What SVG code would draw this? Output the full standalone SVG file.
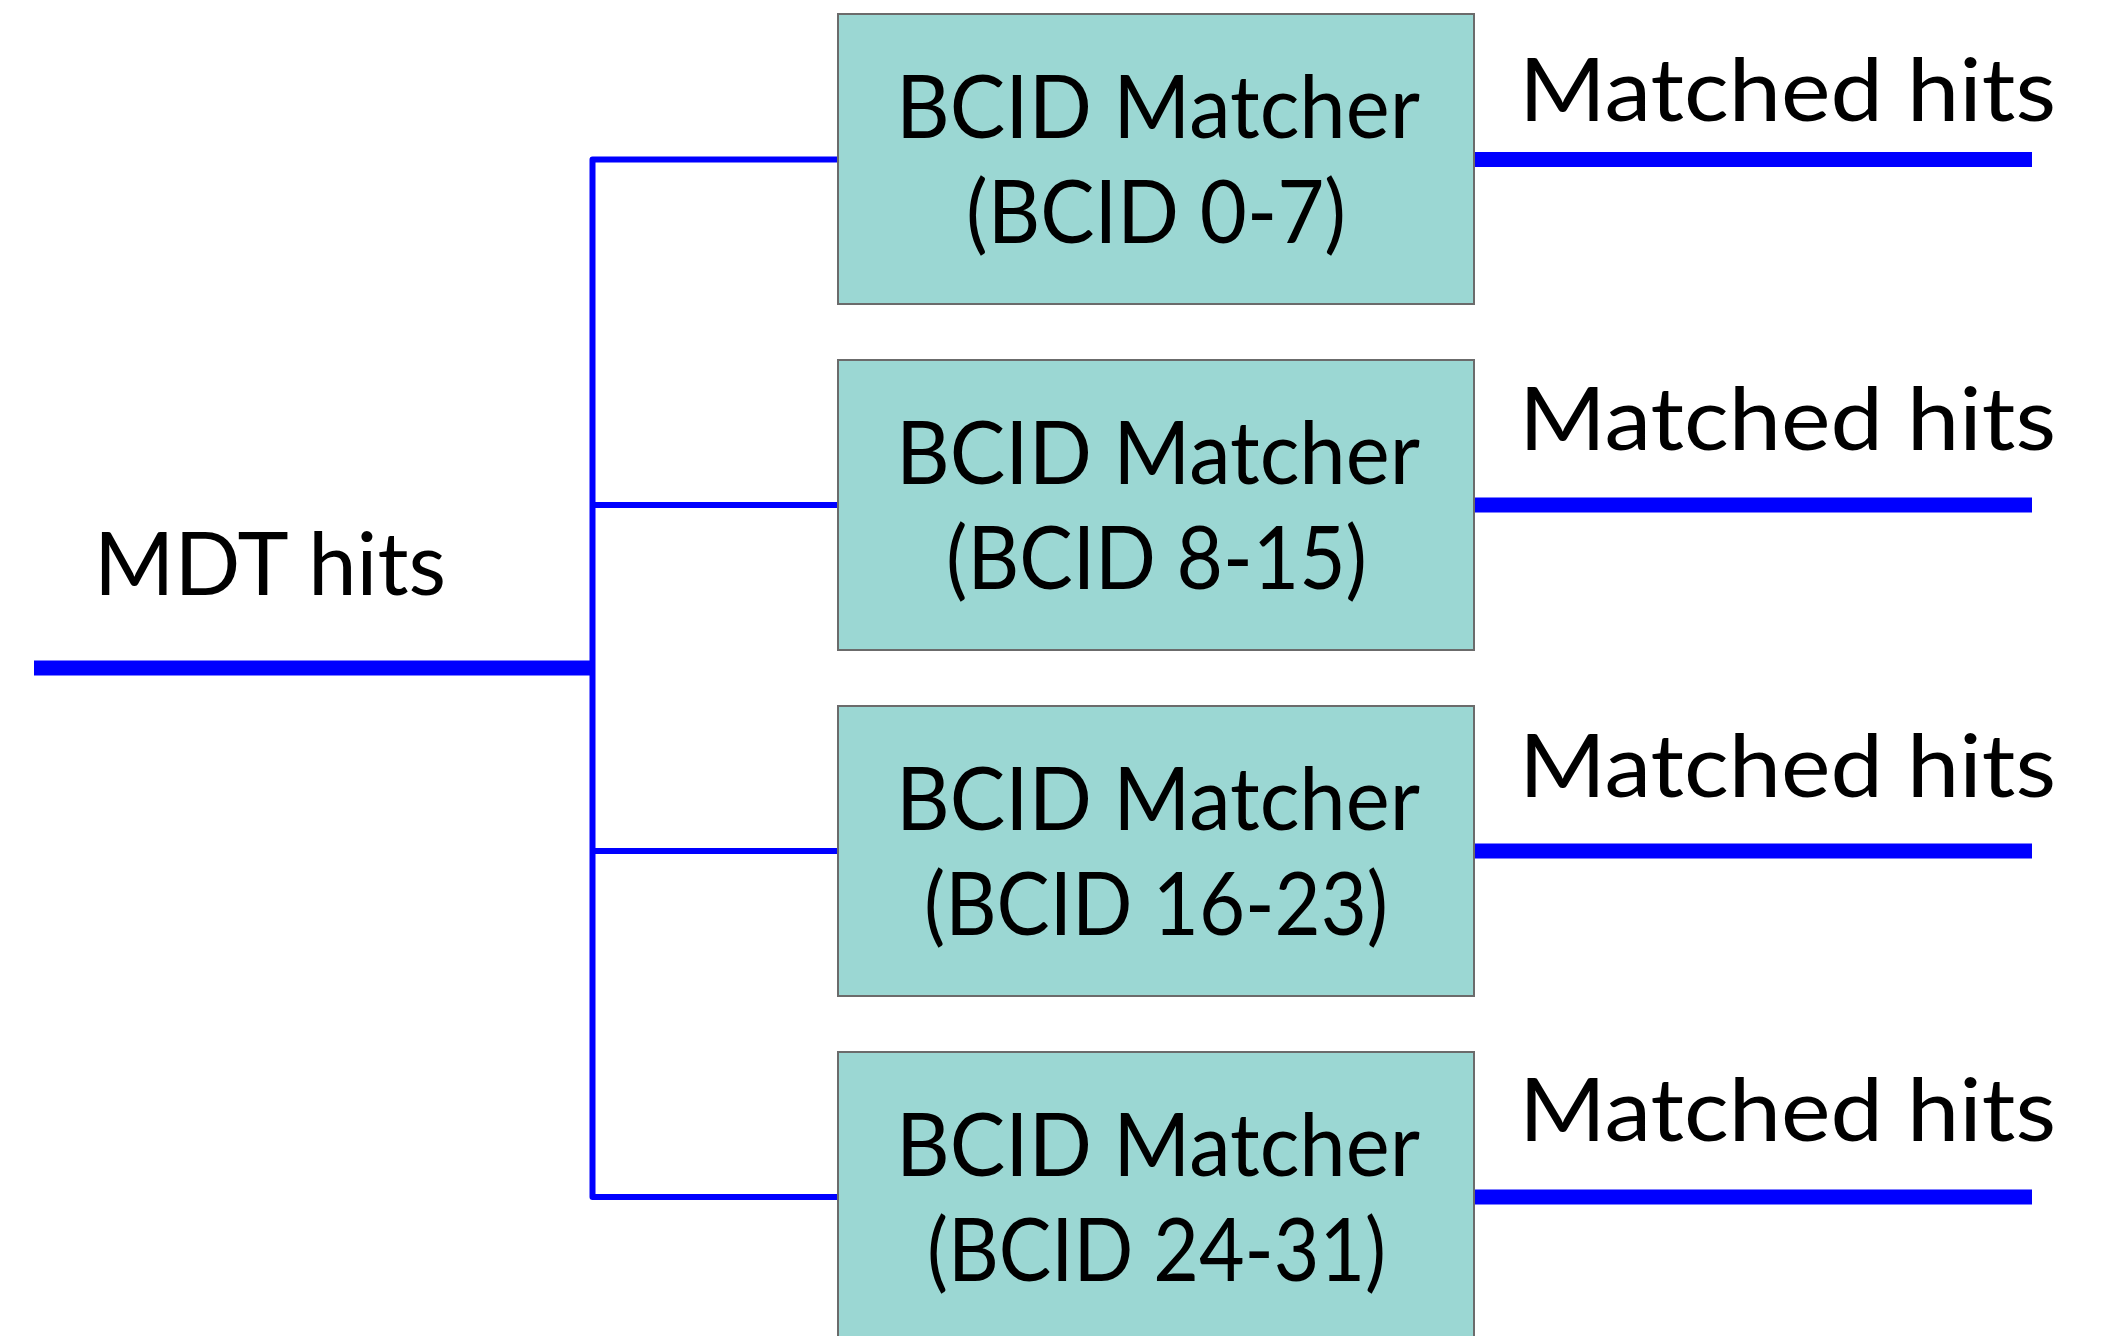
<svg xmlns="http://www.w3.org/2000/svg" width="2115" height="1336" viewBox="0 0 2115 1336">
<style>
  .box { fill: #9bd7d3; stroke: #6b6b6b; stroke-width: 2; }
  .lbl { font-family: Lato, "Noto Sans", sans-serif; font-size: 87px; fill: #000; }
  .mid { text-anchor: middle; }
  .thin { stroke: #0000ff; stroke-width: 6; fill: none; stroke-linejoin: round; }
  .thick { stroke: #0000ff; stroke-width: 15; fill: none; }
</style>
<rect width="2115" height="1336" fill="#ffffff"/>
<g id="connectors">
  <line class="thick" x1="34" y1="668" x2="592" y2="668"/>
  <path class="thin" d="M838,159.5 H592.5 V1197 H838"/>
  <line class="thin" x1="592.5" y1="505" x2="838" y2="505"/>
  <line class="thin" x1="592.5" y1="851" x2="838" y2="851"/>
  <line class="thick" x1="1474" y1="159.5" x2="2032" y2="159.5"/>
  <line class="thick" x1="1474" y1="505" x2="2032" y2="505"/>
  <line class="thick" x1="1474" y1="851" x2="2032" y2="851"/>
  <line class="thick" x1="1474" y1="1197" x2="2032" y2="1197"/>
</g>
<g id="input-label">
  <text class="lbl" x="94" y="595" textLength="352" lengthAdjust="spacingAndGlyphs">MDT hits</text>
</g>
<g id="matcher-0">
  <rect class="box" x="838" y="14" width="636" height="290"/>
  <text class="lbl mid" x="1158" y="138" textLength="524" lengthAdjust="spacingAndGlyphs">BCID Matcher</text>
  <text class="lbl mid" x="1156" y="243" textLength="380" lengthAdjust="spacingAndGlyphs">(BCID 0-7)</text>
</g>
<g id="matcher-1">
  <rect class="box" x="838" y="360" width="636" height="290"/>
  <text class="lbl mid" x="1158" y="484" textLength="524" lengthAdjust="spacingAndGlyphs">BCID Matcher</text>
  <text class="lbl mid" x="1156.5" y="589" textLength="421" lengthAdjust="spacingAndGlyphs">(BCID 8-15)</text>
</g>
<g id="matcher-2">
  <rect class="box" x="838" y="706" width="636" height="290"/>
  <text class="lbl mid" x="1158" y="830" textLength="524" lengthAdjust="spacingAndGlyphs">BCID Matcher</text>
  <text class="lbl mid" x="1156" y="935" textLength="464" lengthAdjust="spacingAndGlyphs">(BCID 16-23)</text>
</g>
<g id="matcher-3">
  <rect class="box" x="838" y="1052" width="636" height="300"/>
  <text class="lbl mid" x="1158" y="1176" textLength="524" lengthAdjust="spacingAndGlyphs">BCID Matcher</text>
  <text class="lbl mid" x="1156.5" y="1281" textLength="459" lengthAdjust="spacingAndGlyphs">(BCID 24-31)</text>
</g>
<g id="output-labels">
  <text class="lbl" x="1519" y="121" textLength="537" lengthAdjust="spacingAndGlyphs">Matched hits</text>
  <text class="lbl" x="1519" y="450" textLength="537" lengthAdjust="spacingAndGlyphs">Matched hits</text>
  <text class="lbl" x="1519" y="797" textLength="537" lengthAdjust="spacingAndGlyphs">Matched hits</text>
  <text class="lbl" x="1519" y="1141" textLength="537" lengthAdjust="spacingAndGlyphs">Matched hits</text>
</g>
</svg>
